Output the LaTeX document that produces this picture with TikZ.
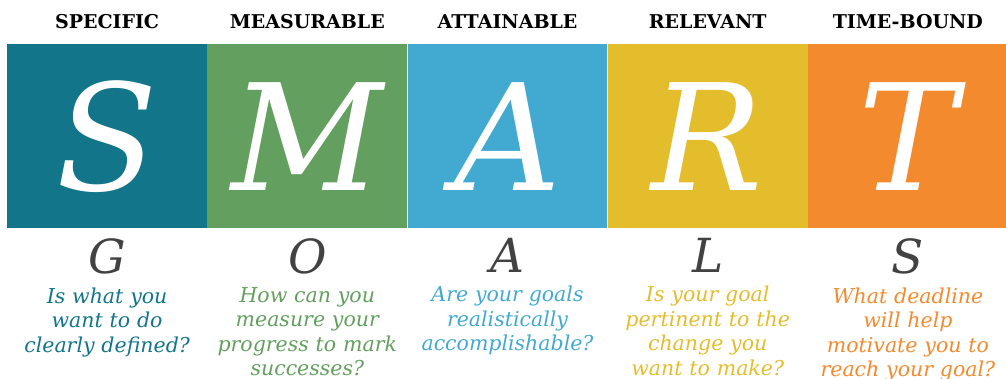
\documentclass[tikz,border=0pt]{standalone}
\usepackage{fontspec}
\setmainfont{DejaVu Serif}
\usetikzlibrary{positioning}

\definecolor{specC}{HTML}{12758A}
\definecolor{measC}{HTML}{639F5E}
\definecolor{attC}{HTML}{42AAD0}
\definecolor{relC}{HTML}{E3BD2C}
\definecolor{timeC}{HTML}{F48A2E}
\definecolor{goalC}{HTML}{424242}

\tikzset{
  block/.style={fill=#1, minimum width=199.8pt, minimum height=184pt, inner sep=0pt,
    text=white, font=\fontsize{148}{148}\selectfont\itshape},
  head/.style={inner sep=0pt, font=\fontsize{19}{19}\selectfont\bfseries},
  goalltr/.style={inner sep=0pt, text=goalC, font=\fontsize{47}{47}\selectfont\itshape},
  ask/.style={inner sep=0pt, text=#1, align=center, text width=199pt,
    font=\fontsize{20.5}{24.5}\selectfont\itshape}
}

\begin{document}
\begin{tikzpicture}[x=1pt,y=1pt]
  \useasboundingbox (0,0) rectangle (1006,379);

  % the five coloured blocks
  \node[block=specC, anchor=north west] (sblk) at (7,335) {S};
  \node[block=measC, right=0pt of sblk] (mblk) {M};
  \node[block=attC,  right=0pt of mblk] (ablk) {A};
  \node[block=relC,  right=0pt of ablk] (rblk) {R};
  \node[block=timeC, right=0pt of rblk] (tblk) {T};

  % headings
  \node[head, above=15pt of sblk] (shead) {SPECIFIC};
  \node[head, above=15pt of mblk] (mhead) {MEASURABLE};
  \node[head, above=15pt of ablk] (ahead) {ATTAINABLE};
  \node[head, above=15pt of rblk] (rhead) {RELEVANT};
  \node[head, above=15pt of tblk] (thead) {TIME-BOUND};

  % G O A L S
  \node[goalltr, below=10pt of sblk] (gG) {G};
  \node[goalltr, below=10pt of mblk] (gO) {O};
  \node[goalltr, below=10pt of ablk] (gA) {A};
  \node[goalltr, below=10pt of rblk] (gL) {L};
  \node[goalltr, below=10pt of tblk] (gS) {S};

  % questions
  \node[ask=specC, below=13pt of gG] (sask) {Is what you\\want to do\\clearly defined?};
  \node[ask=measC, below=13pt of gO] (mask) {How can you\\measure your\\progress to mark\\successes?};
  \node[ask=attC,  below=13pt of gA] (aask) {Are your goals\\realistically\\accomplishable?};
  \node[ask=relC,  below=13pt of gL] (rask) {Is your goal\\pertinent to the\\change you\\want to make?};
  \node[ask=timeC, below=13pt of gS] (task) {What deadline\\will help\\motivate you to\\reach your goal?};
\end{tikzpicture}
\end{document}
